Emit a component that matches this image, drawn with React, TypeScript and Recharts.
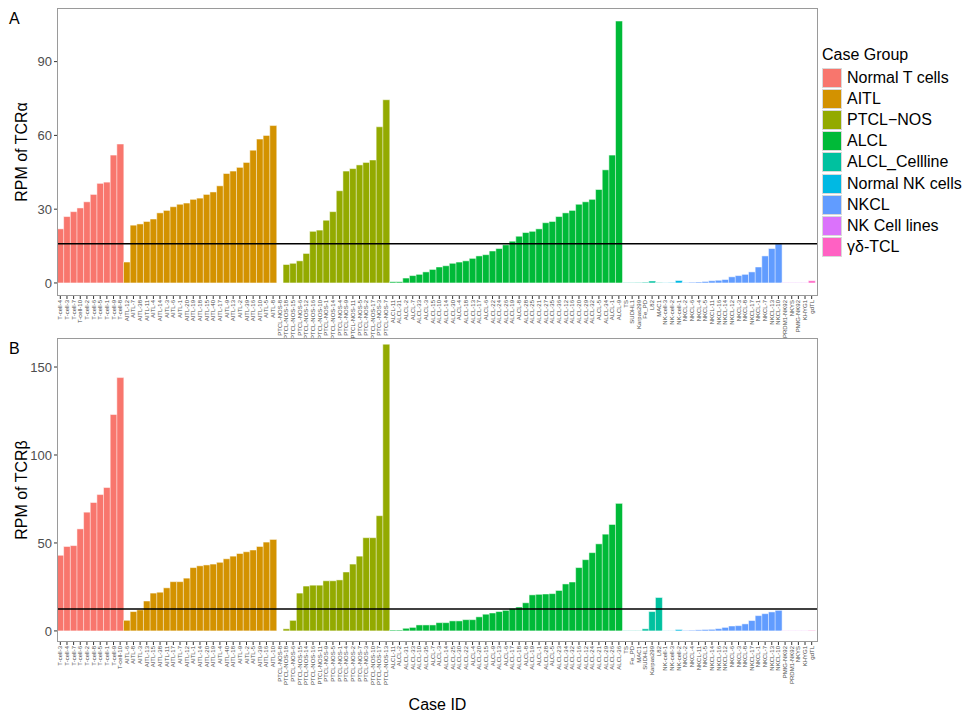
import * as React from "react";
import { BarChart, Bar, Cell, XAxis, YAxis, ReferenceLine } from "recharts";

// group colours (ggplot hue palette)
const groups = [
  "Normal T cells",
  "AITL",
  "PTCL\u2212NOS",
  "ALCL",
  "ALCL_Cellline",
  "Normal NK cells",
  "NKCL",
  "NK Cell lines",
  "\u03b3\u03b4-TCL",
];
const groupColors = [
  "#F8766D",
  "#D39200",
  "#93AA00",
  "#00BA38",
  "#00C19F",
  "#00B9E3",
  "#619CFF",
  "#DB72FB",
  "#FF61C3",
];

// ---- panel A: TCR alpha ----
const tA = ["T-cell-4", "T-cell-3", "T-cell-7", "T-cell-10", "T-cell-2", "T-cell-6", "T-cell-5", "T-cell-1", "T-cell-9", "T-cell-8"];
const tAVals = [22, 27, 29, 30.5, 33, 36, 40.5, 41, 52, 56.5];
const aitlA = ["AITL-12", "AITL-7", "AITL-38", "AITL-11", "AITL-4", "AITL-14", "AITL-3", "AITL-6", "AITL-1", "AITL-20", "AITL-19", "AITL-18", "AITL-15", "AITL-40", "AITL-17", "AITL-9", "AITL-13", "AITL-2", "AITL-39", "AITL-16", "AITL-10", "AITL-5", "AITL-8"];
const aitlAVals = [8.5, 23.5, 24, 25, 26, 28.5, 29.5, 31, 32, 32.5, 34, 34.5, 36, 37, 39.5, 44.5, 45.5, 47, 49, 54, 58.5, 60, 64];
const ptclA = ["PTCL-NOS-8", "PTCL-NOS-18", "PTCL-NOS-15", "PTCL-NOS-6", "PTCL-NOS-12", "PTCL-NOS-16", "PTCL-NOS-10", "PTCL-NOS-1", "PTCL-NOS-14", "PTCL-NOS-4", "PTCL-NOS-9", "PTCL-NOS-11", "PTCL-NOS-5", "PTCL-NOS-2", "PTCL-NOS-17", "PTCL-NOS-3", "PTCL-NOS-7"];
const ptclAVals = [0, 7.5, 8, 9, 12, 21, 21.5, 25.5, 29, 37.5, 45.5, 46.5, 48, 49, 50, 63.5, 74.5];
const alclA = ["ALCL-11", "ALCL-31", "ALCL-2", "ALCL-7", "ALCL-33", "ALCL-3", "ALCL-15", "ALCL-10", "ALCL-14", "ALCL-30", "ALCL-4", "ALCL-18", "ALCL-13", "ALCL-17", "ALCL-6", "ALCL-22", "ALCL-24", "ALCL-26", "ALCL-19", "ALCL-8", "ALCL-28", "ALCL-25", "ALCL-21", "ALCL-27", "ALCL-35", "ALCL-36", "ALCL-12", "ALCL-16", "ALCL-20", "ALCL-29", "ALCL-32", "ALCL-5", "ALCL-34", "ALCL-1", "ALCL-9"];
const alclAVals = [0.5, 0.5, 2, 3, 3.5, 4.5, 5.5, 6.5, 7, 8, 8.5, 9, 10, 11, 11.5, 13, 14, 15.5, 17, 19, 20.5, 21, 22, 24.5, 25, 27, 28.5, 29.5, 32, 33, 34, 38, 46, 52, 106.5];
const cellA = ["TS", "SUDHL1", "Karpas299", "Fe_PD", "L82", "MAC1"];
const cellAVals = [0.15, 0.15, 0.2, 0.3, 0.8, 0.2];
const nkA = ["NK-cell-3", "NK-cell-2", "NK-cell-1"];
const nkAVals = [0.1, 0.2, 1];
const nkclA = ["NKCL-2", "NKCL-6", "NKCL-4", "NKCL-5", "NKCL-11", "NKCL-16", "NKCL-14", "NKCL-12", "NKCL-3", "NKCL-8", "NKCL-17", "NKCL-1", "NKCL-7", "NKCL-13", "NKCL-10"];
const nkclAVals = [0.2, 0.3, 0.4, 0.6, 0.9, 1.1, 1.4, 2.5, 3, 3.5, 4.5, 6.5, 11, 14, 15.9];
const nkLinesA = ["PRDM1-NK92", "NKYS", "PMIG-NK92", "KHYG1"];
const nkLinesAVals = [0.12, 0.12, 0.12, 0.12];
const gdA = ["gdTL"];
const gdAVals = [0.9];
const cutoffA = 15.9;

// ---- panel B: TCR beta ----
const tB = ["T-cell-3", "T-cell-4", "T-cell-7", "T-cell-6", "T-cell-2", "T-cell-8", "T-cell-5", "T-cell-1", "T-cell-9", "T-cell-10"];
const tBVals = [43, 48, 48.5, 58, 67.5, 73, 77.5, 81.5, 123, 144];
const aitlB = ["AITL-6", "AITL-8", "AITL-3", "AITL-13", "AITL-15", "AITL-38", "AITL-11", "AITL-17", "AITL-7", "AITL-12", "AITL-1", "AITL-14", "AITL-20", "AITL-19", "AITL-4", "AITL-40", "AITL-18", "AITL-9", "AITL-2", "AITL-5", "AITL-39", "AITL-16", "AITL-10"];
const aitlBVals = [6, 11, 12, 17, 21.5, 22, 24.5, 28, 28, 30, 36, 37, 37.5, 38, 39, 41, 42.5, 44, 45, 46, 48, 50.5, 52];
const ptclB = ["PTCL-NOS-8", "PTCL-NOS-18", "PTCL-NOS-6", "PTCL-NOS-15", "PTCL-NOS-14", "PTCL-NOS-16", "PTCL-NOS-11", "PTCL-NOS-9", "PTCL-NOS-5", "PTCL-NOS-1", "PTCL-NOS-4", "PTCL-NOS-2", "PTCL-NOS-7", "PTCL-NOS-3", "PTCL-NOS-10", "PTCL-NOS-17", "PTCL-NOS-13"];
const ptclBVals = [0, 1.2, 6, 21.5, 25.5, 26, 26, 28.5, 28.5, 29, 33.5, 38, 42.5, 53, 53, 65.5, 163];
const alclB = ["ALCL-11", "ALCL-2", "ALCL-31", "ALCL-33", "ALCL-10", "ALCL-35", "ALCL-7", "ALCL-3", "ALCL-14", "ALCL-25", "ALCL-30", "ALCL-22", "ALCL-4", "ALCL-20", "ALCL-15", "ALCL-9", "ALCL-13", "ALCL-6", "ALCL-17", "ALCL-18", "ALCL-8", "ALCL-19", "ALCL-1", "ALCL-28", "ALCL-5", "ALCL-23", "ALCL-34", "ALCL-32", "ALCL-16", "ALCL-12", "ALCL-24", "ALCL-21", "ALCL-29", "ALCL-26", "ALCL-36"];
const alclBVals = [0.5, 0.5, 1.5, 2, 3.4, 3.4, 3.4, 4.7, 4.7, 5.7, 5.7, 6.4, 6.4, 8, 9.5, 10.2, 11, 11.7, 12.7, 13.6, 16, 20.5, 20.8, 21, 21.2, 23, 26.7, 27.8, 36, 40.5, 44.5, 49.5, 55, 60.5, 72.5];
const cellB = ["TS", "Fe_PD", "MAC1", "SUDHL1", "Karpas299", "L82"];
const cellBVals = [0.2, 0.2, 0.2, 1.2, 11, 19];
const nkB = ["NK-cell-1", "NK-cell-3", "NK-cell-2"];
const nkBVals = [0.1, 0.1, 0.8];
const nkclB = ["NKCL-2", "NKCL-4", "NKCL-11", "NKCL-5", "NKCL-14", "NKCL-16", "NKCL-12", "NKCL-6", "NKCL-3", "NKCL-8", "NKCL-17", "NKCL-1", "NKCL-7", "NKCL-13", "NKCL-10"];
const nkclBVals = [0.3, 0.4, 0.6, 0.8, 0.9, 1.3, 2, 2.8, 3, 4, 5.9, 8.7, 9.8, 10.8, 11.7];
const nkLinesB = ["PMIG-NK92", "PRDM1-NK92", "NKYS", "KHYG1"];
const nkLinesBVals = [0.12, 0.12, 0.12, 0.12];
const gdB = ["gdTL"];
const gdBVals = [0.3];
const cutoffB = 12.5;

function build(names: string[][], vals: number[][]) {
  const out: { name: string; v: number; g: number }[] = [];
  names.forEach((grp, gi) =>
    grp.forEach((n, i) => out.push({ name: n, v: vals[gi][i], g: gi }))
  );
  return out;
}

const dataA = build(
  [tA, aitlA, ptclA, alclA, cellA, nkA, nkclA, nkLinesA, gdA],
  [tAVals, aitlAVals, ptclAVals, alclAVals, cellAVals, nkAVals, nkclAVals, nkLinesAVals, gdAVals]
);
const dataB = build(
  [tB, aitlB, ptclB, alclB, cellB, nkB, nkclB, nkLinesB, gdB],
  [tBVals, aitlBVals, ptclBVals, alclBVals, cellBVals, nkBVals, nkclBVals, nkLinesBVals, gdBVals]
);

const FONT = "'Liberation Sans', Arial, sans-serif";
const BORDER = "#9a9a9a";

function XTick({ x, y, payload }: any) {
  return (
    <text
      x={x}
      y={y}
      transform={`rotate(-90, ${x}, ${y})`}
      textAnchor="end"
      dominantBaseline="central"
      fontSize={6}
      fill="#4d4d4d"
      fontFamily={FONT}
    >
      {payload.value}
    </text>
  );
}

function Panel({
  data,
  domain,
  ticks,
  cutoff,
  yLabel,
  height,
  xHeight,
  xLabel,
}: {
  data: { name: string; v: number; g: number }[];
  domain: [number, number];
  ticks: number[];
  cutoff: number;
  yLabel: string;
  height: number;
  xHeight: number;
  xLabel?: string;
}) {
  return (
    <div style={{ position: "relative", width: 822, height }}>
      <BarChart
        width={822}
        height={height}
        data={data}
        margin={{ top: 8, right: 4, left: 0, bottom: 0 }}
        barCategoryGap={0}
        barGap={0}
      >
        <XAxis
          dataKey="name"
          interval={0}
          height={xHeight}
          padding={{ left: 0, right: 3 }}
          tick={<XTick />}
          tickSize={3}
          tickMargin={1}
          axisLine={false}
          tickLine={{ stroke: "#333" }}
          label={
            xLabel
              ? { value: xLabel, position: "insideBottom", offset: 2, fontSize: 16, fill: "#000", fontFamily: FONT }
              : undefined
          }
        />
        <YAxis
          width={57}
          domain={domain}
          ticks={ticks}
          allowDataOverflow
          tickSize={3}
          tickMargin={2}
          axisLine={false}
          tickLine={{ stroke: "#333" }}
          tick={{ fontSize: 13, fill: "#4d4d4d", fontFamily: FONT }}
          label={{ value: yLabel, angle: -90, position: "center", dx: -7, fontSize: 16, fill: "#000", fontFamily: FONT }}
        />
        <Bar dataKey="v" isAnimationActive={false} stroke="#fff" strokeWidth={0.5}>
          {data.map((d, i) => (
            <Cell key={i} fill={groupColors[d.g]} />
          ))}
        </Bar>
        <ReferenceLine y={cutoff} stroke="#000" strokeWidth={1.5} />
      </BarChart>
      {/* panel border */}
      <div
        style={{
          position: "absolute",
          left: 57,
          top: 8,
          width: 761,
          height: height - 8 - xHeight,
          border: `1px solid ${BORDER}`,
          boxSizing: "border-box",
          pointerEvents: "none",
        }}
      />
    </div>
  );
}

export default function App() {
  return (
    <div style={{ position: "absolute", left: 0, top: 0, width: 973, height: 712, background: "#fff", fontFamily: FONT }}>
      <div style={{ position: "absolute", left: 0, top: 0 }}>
        <Panel data={dataA} domain={[-5.3, 111.8]} ticks={[0, 30, 60, 90]} cutoff={cutoffA} yLabel="RPM of TCRα" height={338} xHeight={42} />
      </div>
      <div style={{ position: "absolute", left: 0, top: 330 }}>
        <Panel data={dataB} domain={[-6.3, 166.5]} ticks={[0, 50, 100, 150]} cutoff={cutoffB} yLabel="RPM of TCRβ" height={382} xHeight={70} xLabel="Case ID" />
      </div>
      <div style={{ position: "absolute", left: 9, top: 10, fontSize: 16 }}>A</div>
      <div style={{ position: "absolute", left: 9, top: 340, fontSize: 16 }}>B</div>
      <div style={{ position: "absolute", left: 822, top: 45 }}>
        <div style={{ fontSize: 16, lineHeight: "20px", marginBottom: 2 }}>Case Group</div>
        {groups.map((g, i) => (
          <div key={g} style={{ display: "flex", alignItems: "center", height: 21.2 }}>
            <div style={{ width: 20, height: 20, background: groupColors[i], border: "0.5px solid #d9d9d9", boxSizing: "border-box" }} />
            <span style={{ fontSize: 16, marginLeft: 5, whiteSpace: "nowrap" }}>{g}</span>
          </div>
        ))}
      </div>
    </div>
  );
}
